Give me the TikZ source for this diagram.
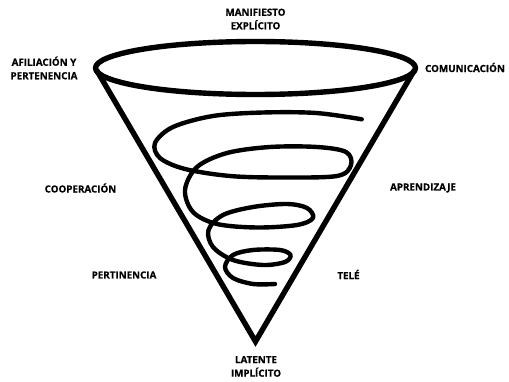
\documentclass[tikz,border=0pt]{standalone}
\usepackage{fontspec}
\setmainfont[BoldFeatures={FakeBold=0.4}]{Open Sans}
\begin{document}
\begin{tikzpicture}[x=1pt,y=-1pt,
  lab/.style={font=\bfseries\fontsize{9.8}{13.5}\selectfont,align=center,inner sep=0pt,text=black},
  funnel/.style={line width=5.4pt,line cap=round,line join=round},
  coil/.style={line width=4.4pt,line cap=round,line join=round}]
\useasboundingbox (0,0) rectangle (509,382);
\coordinate (L) at (96.5,70);
\coordinate (R) at (414.5,70);
\coordinate (A) at (255.5,341.5);
\coordinate (O) at (255.5,68);
\draw[funnel] (O) ellipse [x radius=160,y radius=26.5];
\draw[funnel,line join=miter,line cap=butt] (L) -- (A) -- (R);
\draw[coil] plot[smooth,tension=0.55] coordinates {
 (361.7,119.3) (316,113) (263,112.5) (213,116) (173,127) (155,143) (160,158) (185,169)
 (230,176) (280,177.5) (337,176) (351,165) (346,152) (317,147) (270,147) (227,153)
 (197,167) (185,190) (193,212) (217,224) (257,227.5) (297,225) (313,218) (307,208)
 (287,204) (253,207) (223,215) (208.5,230) (213,247) (233,260) (263,265) (285,262)
 (290.5,255) (280,250) (253,250) (233,255) (225,267) (233,278) (253,284) (275,284)};
\node[lab] (m) at (255.5,19) {MANIFIESTO\\EXPLÍCITO};
\node[lab] (a) at (44,68) {AFILIACIÓN Y\\PERTENENCIA};
\node[lab] (c) at (465,67.5) {COMUNICACIÓN};
\node[lab] (co) at (80.5,188) {COOPERACIÓN};
\node[lab] (ap) at (423,188) {APRENDIZAJE};
\node[lab] (pe) at (124,275) {PERTINENCIA};
\node[lab] (t) at (348.5,274.5) {TELÉ};
\node[lab] (la) at (256,366.5) {LATENTE\\IMPLÍCITO};
\end{tikzpicture}
\end{document}
